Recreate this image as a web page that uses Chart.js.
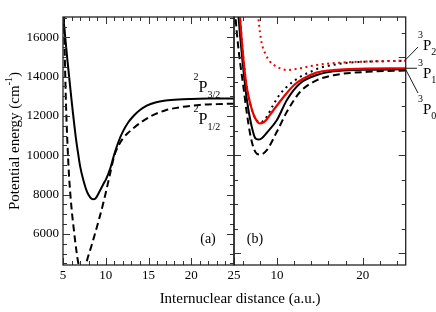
<!DOCTYPE html>
<html><head><meta charset="utf-8">
<script src="https://cdn.jsdelivr.net/npm/chart.js@4/dist/chart.umd.min.js"></script>
<style>
html,body{margin:0;padding:0;background:#fff;}
#wrap{position:relative;width:436px;height:312px;background:#fff;}
canvas{position:absolute;left:0;top:0;}
</style></head><body>
<div id="wrap"><canvas id="ca" width="436" height="312"></canvas><canvas id="cb" width="436" height="312"></canvas></div>
<script>
// ---------- Panel (a) data ----------
const rA32 = [5.02,5.5,6.0,6.5,6.8,7.0,7.4,7.8,8.2,8.5,8.8,9.3,9.8,10.0,10.5,11.0,11.5,12.0,12.6,13.3,14.0,14.8,15.8,17,18.5,20,22,25];
const eA32 = [17100,14900,12800,10900,10000,9450,8700,8150,7850,7760,7800,8180,8600,8750,9300,10050,10700,11200,11650,12020,12300,12520,12680,12780,12840,12865,12880,12885];
const rA12 = [5.1,5.22,5.35,5.5,5.7,6.0,6.3,6.55,6.8,7.2,7.5,7.75,8.3,8.8,9.3,9.9,10.5,11.0,11.5,12.0,12.6,13.3,14.2,15.3,17,19,21,23,25];
const eA12 = [17100,14800,12600,10800,9000,7300,6100,5200,4500,3950,4000,4550,5350,6100,6880,7900,9050,9980,10500,10850,11130,11400,11700,11990,12290,12460,12560,12600,12625];
const xTicksA = [5,10,15,20,25];
const yTicksA = [6000,8000,10000,12000,14000,16000];

// ---------- Panel (b) data ----------
const rBredSolid = [5.62,5.9,6.2,6.5,6.9,7.3,7.7,8.0,8.4,8.8,9.6,10.8,12,13,14.6,16.6,18.6,25];
const eBredSolid = [17000,16353,15782,15373,15047,14822,14690,14649,14669,14731,14924,15196,15435,15557,15686,15741,15761,15776];
const rBredDot = [7.78,7.84,8.04,8.23,8.62,9.2,9.98,11.15,12.71,14.66,17.38,25];
const eBredDot = [17000,16816,16490,16286,16082,15910,15808,15741,15776,15843,15890,15931];
const rBblkSolid = [5.45,5.7,6.0,6.5,7.0,7.5,7.8,8.2,8.8,10.0,11.16,12.71,14.66,16.6,20,25];
const eBblkSolid = [17000,16455,15904,15129,14635,14343,14322,14343,14455,14720,15129,15469,15639,15714,15745,15755];
const rBblkDash = [5.1,5.3,5.6,6.09,6.5,6.87,7.3,7.7,8.1,8.82,9.99,11.16,12.71,14.66,16.6,20.5,25];
const eBblkDash = [17000,16560,16051,15404,14853,14445,14139,14026,14016,14104,14479,14887,15296,15532,15634,15704,15731];
const rBblkDot = [5.62,5.9,6.2,6.5,6.9,7.3,7.7,8.0,8.4,8.8,9.5,10.2,11,12,13,14,15,16.5,18,20,25];
const eBblkDot = [17000,16353,15782,15373,15047,14822,14700,14669,14700,14782,15006,15210,15373,15516,15629,15710,15782,15843,15884,15908,15929];
const xTicksB = [10,20];
const yTicksB = [12000,14000,16000];

const FONT = "'Liberation Serif','Times New Roman',serif";
const zip = (xs, ys) => xs.map((x, i) => ({x, y: ys[i]}));

const frameTicks = {
  id: 'frameTicks',
  afterDatasetsDraw(chart, args, o) {
    const {ctx, chartArea: a} = chart;
    const x = chart.scales.x, y = chart.scales.y;
    ctx.save();
    ctx.strokeStyle = '#333';
    ctx.lineWidth = 1;
    const L = (x1, y1, x2, y2) => { ctx.beginPath(); ctx.moveTo(x1, y1); ctx.lineTo(x2, y2); ctx.stroke(); };
    const tx = (v, len) => { const p = Math.round(x.getPixelForValue(v)) + 0.5; L(p, a.bottom, p, a.bottom - len); L(p, a.top, p, a.top + len); };
    const ty = (v, len) => { const p = Math.round(y.getPixelForValue(v)) + 0.5; L(a.left, p, a.left + len, p); L(a.right, p, a.right - len, p); };
    for (let v = o.xMinorFrom; v <= o.xMinorTo + 1e-9; v += o.xMinorStep) tx(v, 4);
    o.xMajor.forEach(v => tx(v, 7));
    for (let v = o.yMinorFrom; v <= o.yMinorTo + 1e-9; v += o.yMinorStep) ty(v, 4);
    o.yMajor.forEach(v => ty(v, 7));
    ctx.lineWidth = 1.3;
    ctx.strokeStyle = '#222';
    ctx.strokeRect(a.left, a.top, a.right - a.left, a.bottom - a.top);
    ctx.restore();
  }
};

function drawPieces(ctx, x, pieces) {
  let cx = x;
  pieces.forEach(p => {
    ctx.font = p.size + 'px ' + FONT;
    ctx.fillText(p.t, cx, p.b);
    cx += ctx.measureText(p.t).width + (p.gap || 0);
  });
}

const textsA = {
  id: 'textsA',
  afterDraw(chart) {
    const ctx = chart.ctx;
    ctx.save();
    ctx.fillStyle = '#000';
    ctx.textBaseline = 'alphabetic';
    ctx.textAlign = 'left';
    drawPieces(ctx, 193.5, [{t:'2', size:10, b:80}, {t:'P', size:16, b:92}, {t:'3/2', size:10, b:98}]);
    drawPieces(ctx, 193.5, [{t:'2', size:10, b:112}, {t:'P', size:16, b:124}, {t:'1/2', size:10, b:130}]);
    ctx.font = '14px ' + FONT;
    ctx.textAlign = 'center';
    ctx.fillText('(a)', 208, 243);
    ctx.font = '15px ' + FONT;
    ctx.fillText('Internuclear distance (a.u.)', 240, 303);
    // y title
    ctx.save();
    ctx.translate(19, 141);
    ctx.rotate(-Math.PI / 2);
    ctx.textAlign = 'left';
    ctx.font = '15px ' + FONT;
    const t1 = 'Potential energy (cm', t3 = ')';
    const w1 = ctx.measureText(t1).width, w3 = ctx.measureText(t3).width;
    ctx.font = '10px ' + FONT;
    const w2 = ctx.measureText('-1').width;
    const tot = w1 + w2 + w3;
    drawPieces(ctx, -tot / 2, [{t:t1, size:15, b:0}, {t:'-1', size:10, b:-7}, {t:t3, size:15, b:0}]);
    ctx.restore();
    ctx.restore();
  }
};

const textsB = {
  id: 'textsB',
  afterDraw(chart) {
    const ctx = chart.ctx;
    const y = chart.scales.y, x = chart.scales.x;
    ctx.save();
    ctx.fillStyle = '#000';
    ctx.textAlign = 'center';
    ctx.font = '14px ' + FONT;
    ctx.fillText('(b)', 255, 243);
    ctx.textAlign = 'left';
    drawPieces(ctx, 418, [{t:'3', size:10, b:38}, {t:'P', size:15, b:50}, {t:'2', size:10, b:55}]);
    drawPieces(ctx, 418, [{t:'3', size:10, b:66}, {t:'P', size:15, b:78}, {t:'1', size:10, b:83}]);
    drawPieces(ctx, 418, [{t:'3', size:10, b:102}, {t:'P', size:15, b:114}, {t:'0', size:10, b:119}]);
    ctx.strokeStyle = '#000';
    ctx.lineWidth = 0.9;
    const xr = x.getPixelForValue(25);
    const L = (x1, y1, x2, y2) => { ctx.beginPath(); ctx.moveTo(x1, y1); ctx.lineTo(x2, y2); ctx.stroke(); };
    L(xr, y.getPixelForValue(eBredDot[eBredDot.length - 1]) - 1, 418, 47);
    L(xr, y.getPixelForValue(eBredSolid[eBredSolid.length - 1]), 417, y.getPixelForValue(eBredSolid[eBredSolid.length - 1]));
    L(xr, y.getPixelForValue(eBblkDash[eBblkDash.length - 1]) - 1, 418, 93);
    ctx.restore();
  }
};

function opts(c) {
  return {
    responsive: false, animation: false, events: [],
    layout: {padding: {left: 0, right: c.padRight, top: 17, bottom: 0}},
    plugins: {legend: {display: false}, tooltip: {enabled: false}, frameTicks: c.frame},
    elements: {point: {radius: 0}, line: {cubicInterpolationMode: 'monotone'}},
    scales: {
      x: {
        type: 'linear', min: c.xmin, max: c.xmax,
        grid: {display: false, drawTicks: false, tickLength: 0}, border: {display: false},
        afterBuildTicks: s => { s.ticks = c.xTicks.map(v => ({value: v})); },
        afterFit: s => { s.height = 47; s.paddingLeft = 0; s.paddingRight = 0; },
        ticks: {autoSkip: false, maxRotation: 0, padding: 3, color: '#000', font: {family: FONT, size: 13}, callback: v => String(v)}
      },
      y: {
        type: 'linear', min: c.ymin, max: c.ymax,
        grid: {display: false, drawTicks: false, tickLength: 0}, border: {display: false},
        afterBuildTicks: s => { s.ticks = c.yTicks.map(v => ({value: v})); },
        afterFit: s => { s.width = c.yWidth; s.paddingTop = 0; s.paddingBottom = 0; },
        ticks: {display: c.yLabels, autoSkip: false, padding: 4, color: '#000', font: {family: FONT, size: 13}, callback: v => String(v)}
      }
    }
  };
}

new Chart(document.getElementById('ca'), {
  type: 'line',
  data: {datasets: [
    {label: '2P3/2', data: zip(rA32, eA32), borderColor: '#000', borderWidth: 2, fill: false},
    {label: '2P1/2', data: zip(rA12, eA12), borderColor: '#000', borderWidth: 2, borderDash: [7, 4], fill: false}
  ]},
  options: opts({padRight: 202, xmin: 5, xmax: 25, ymin: 4420, ymax: 17030, xTicks: xTicksA, yTicks: yTicksA, yWidth: 63, yLabels: true,
    frame: {xMinorFrom: 5, xMinorTo: 25, xMinorStep: 1, xMajor: [5,10,15,20,25], yMinorFrom: 4500, yMinorTo: 17000, yMinorStep: 500, yMajor: yTicksA}}),
  plugins: [frameTicks, textsA]
});

new Chart(document.getElementById('cb'), {
  type: 'line',
  data: {datasets: [
    {label: '3P1 red', data: zip(rBredSolid, eBredSolid), borderColor: '#ee0000', borderWidth: 2.2, fill: false},
    {label: '3P2 red dotted', data: zip(rBredDot, eBredDot), borderColor: '#ee0000', borderWidth: 2, borderDash: [2, 3.5], fill: false},
    {label: 'black dotted', data: zip(rBblkDot, eBblkDot), borderColor: '#000', borderWidth: 2, borderDash: [2, 4], fill: false},
    {label: 'black solid', data: zip(rBblkSolid, eBblkSolid), borderColor: '#000', borderWidth: 2, fill: false},
    {label: 'black dashed', data: zip(rBblkDash, eBblkDash), borderColor: '#000', borderWidth: 2, borderDash: [7, 4], fill: false}
  ]},
  options: opts({padRight: 30.3, xmin: 5, xmax: 25, ymin: 11761, ymax: 16822, xTicks: xTicksB, yTicks: yTicksB, yWidth: 234, yLabels: false,
    frame: {xMinorFrom: 6, xMinorTo: 24, xMinorStep: 2, xMajor: xTicksB, yMinorFrom: 12000, yMinorTo: 16500, yMinorStep: 500, yMajor: yTicksB}}),
  plugins: [frameTicks, textsB]
});
</script>
</body></html>
